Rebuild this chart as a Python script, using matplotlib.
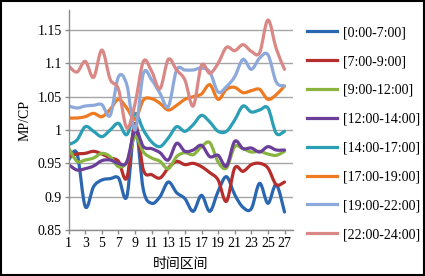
import matplotlib
matplotlib.use("Agg")
import matplotlib.pyplot as plt
import numpy as np
from matplotlib.path import Path
from matplotlib.patches import PathPatch, Rectangle
from matplotlib.lines import Line2D

plt.rcParams['font.family'] = ['Liberation Serif', 'Noto Sans CJK SC']

# 时间区间 1..27
x = list(range(1, 28))

s_0_7 = [0.955, 0.965, 0.885, 0.915, 0.925, 0.927, 0.928, 0.900, 1.005, 0.910,
         0.890, 0.900, 0.922, 0.906, 0.897, 0.878, 0.902, 0.878, 0.908, 0.930,
         0.903, 0.884, 0.882, 0.920, 0.890, 0.918, 0.877]
s_7_9 = [0.960, 0.964, 0.965, 0.968, 0.964, 0.958, 0.953, 0.928, 1.010, 0.940,
         0.933, 0.928, 0.943, 0.953, 0.948, 0.950, 0.945, 0.936, 0.925, 0.893,
         0.943, 0.938, 0.948, 0.950, 0.943, 0.918, 0.922]
s_9_12 = [0.973, 0.953, 0.955, 0.958, 0.965, 0.960, 0.945, 0.952, 0.990, 0.967,
          0.958, 0.953, 0.942, 0.960, 0.966, 0.963, 0.975, 0.981, 0.952, 0.943,
          0.975, 0.972, 0.967, 0.968, 0.964, 0.962, 0.968]
s_12_14 = [0.948, 0.940, 0.942, 0.946, 0.954, 0.955, 0.950, 0.952, 1.000, 0.975,
           0.972, 0.966, 0.955, 0.980, 0.968, 0.970, 0.977, 0.960, 0.962, 0.946,
           0.983, 0.972, 0.973, 0.967, 0.975, 0.970, 0.970]
s_14_17 = [0.978, 0.985, 1.005, 0.998, 0.990, 1.000, 1.010, 0.993, 1.025, 1.000,
           0.982, 0.975, 0.988, 1.005, 0.998, 1.008, 1.022, 1.012, 0.998, 0.998,
           1.015, 1.036, 1.027, 1.030, 1.033, 0.995, 0.998]
s_17_19 = [1.018, 1.018, 1.020, 1.025, 1.020, 1.031, 1.046, 1.033, 1.016, 1.045,
           1.047, 1.040, 1.030, 1.037, 1.046, 1.050, 1.054, 1.068, 1.046, 1.061,
           1.064, 1.056, 1.059, 1.061, 1.046, 1.053, 1.066]
s_19_22 = [1.036, 1.033, 1.036, 1.037, 1.038, 1.022, 1.080, 1.068, 1.000, 1.085,
           1.075, 1.055, 1.035, 1.090, 1.090, 1.090, 1.093, 1.087, 1.057, 1.065,
           1.080, 1.106, 1.091, 1.108, 1.113, 1.072, 1.066]
s_22_24 = [1.096, 1.087, 1.103, 1.079, 1.120, 1.076, 1.061, 1.003, 1.040, 1.103,
           1.088, 1.062, 1.106, 1.090, 1.075, 1.036, 1.097, 1.085, 1.100, 1.124,
           1.119, 1.128, 1.118, 1.116, 1.165, 1.122, 1.091]

series = [s_0_7, s_7_9, s_9_12, s_12_14, s_14_17, s_17_19, s_19_22, s_22_24]
labels = ['[0:00-7:00]', '[7:00-9:00]', '[9:00-12:00]', '[12:00-14:00]',
          '[14:00-17:00]', '[17:00-19:00]', '[19:00-22:00]', '[22:00-24:00]']
colors = ['#2B66B0', '#B52E2C', '#8AB440', '#6B3E99',
          '#2A9FB5', '#EE7A22', '#8DA9DB', '#D98886']

yticks = [0.85, 0.9, 0.95, 1, 1.05, 1.1, 1.15]
xticks = list(range(1, 28, 2))


def smooth_path(xs, ys):
    # Excel-style smoothed line: cubic bezier through the data points
    p = np.column_stack([xs, ys]).astype(float)
    n = len(p)
    verts = [p[0]]
    codes = [Path.MOVETO]
    for i in range(n - 1):
        p0 = p[i - 1] if i > 0 else p[i]
        p3 = p[i + 2] if i + 2 < n else p[i + 1]
        c1 = p[i] + (p[i + 1] - p0) / 6.0
        c2 = p[i + 1] - (p3 - p[i]) / 6.0
        verts += [c1, c2, p[i + 1]]
        codes += [Path.CURVE4] * 3
    return Path(verts, codes)


fig = plt.figure(figsize=(4.25, 2.76), dpi=100)
ax = fig.add_axes([0.1616, 0.1667, 0.5274, 0.797])

for ys, c in zip(series, colors):
    ax.add_patch(PathPatch(smooth_path(x, ys), fill=False, edgecolor=c,
                           linewidth=2.3, capstyle='round', joinstyle='round'))

ax.set_xlim(1, 28)
ax.set_ylim(0.85, 1.18)
ax.set_yticks(yticks)
ax.set_yticklabels([f'{v:g}' for v in yticks])
ax.set_xticks(xticks)
ax.set_xticklabels([str(v) for v in xticks])
ax.yaxis.grid(True, color='#A6A6A6', linewidth=1.0)
ax.set_axisbelow(True)
for sp in ['top', 'right']:
    ax.spines[sp].set_visible(False)
for sp in ['left', 'bottom']:
    ax.spines[sp].set_color('#8C8C8C')
    ax.spines[sp].set_linewidth(1.0)
ax.tick_params(axis='both', colors='#8C8C8C', labelcolor='black',
               labelsize=10, length=3, width=1.0, pad=2)

ax.set_ylabel('MP/CP', fontsize=10, labelpad=4)
ax.set_xlabel('时间区间', fontsize=10, labelpad=6)

handles = [Line2D([], [], color=c, linewidth=2.3) for c in colors]
fig.legend(handles, labels, loc='upper left', bbox_to_anchor=(0.705, 0.93),
           frameon=False, fontsize=10, handlelength=2.2, handletextpad=0.4,
           labelspacing=1.14, borderpad=0)

fig.add_artist(Rectangle((0.002, 0.003), 0.995, 0.993, transform=fig.transFigure,
                         fill=False, edgecolor='black', linewidth=1.5))

fig.savefig('out.png', dpi=100)
